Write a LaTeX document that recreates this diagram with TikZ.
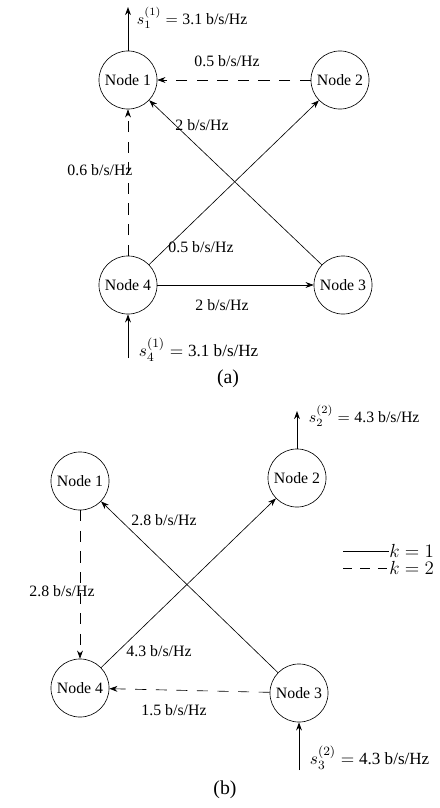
\documentclass[tikz,border=0pt]{standalone}
\usepackage{fontspec}
\setmainfont{Liberation Serif}
\usetikzlibrary{arrows.meta}

\begin{document}
\begin{tikzpicture}[x=0.632pt,y=-0.632pt,
  font=\fontsize{10}{12}\selectfont,
  nd/.style={draw,circle,minimum size=36.7pt,inner sep=0pt},
  lb/.style={inner sep=1pt},
  lbb/.style={inner sep=1pt,font=\fontsize{10.8}{13}\selectfont},
  captxt/.style={font=\fontsize{12.5}{14}\selectfont},
  kt/.style={anchor=west,inner sep=0pt,font=\fontsize{12}{14}\selectfont},
  a/.style={-{Stealth[length=1.8mm,width=1.3mm]},thin},
  ad/.style={a,dash pattern=on 7pt off 6pt},
  io/.style={-{Stealth[length=1.8mm,width=1.3mm]},semithick}]
\useasboundingbox (0,0) rectangle (440,808);

% (a)
\node[nd] (n1a) at (128,80)  {Node 1};
\node[nd] (n2a) at (340,80)  {Node 2};
\node[nd] (n3a) at (343,285) {Node 3};
\node[nd] (n4a) at (128,285) {Node 4};
\draw[ad] (n2a) -- (n1a);
\draw[ad] (n4a) -- (n1a);
\draw[a] (n3a) -- (n1a);
\draw[a] (n4a) -- (n2a);
\draw[a] (n4a) -- (n3a);
\coordinate (outa) at (128,7);
\coordinate (ina)  at (128,358);
\draw[io] (n1a.north) -- (outa);
\draw[io] (ina) -- (n4a.south);
\node[lb,anchor=west] (sa1) at (135,18) {$s_1^{(1)} = \mbox{3.1 b/s/Hz}$};
\node[lbb,anchor=west] (sa4) at (137,350) {$s_4^{(1)} = \mbox{3.1 b/s/Hz}$};
\node[lb] (l21a) at (227,61)  {0.5 b/s/Hz};
\node[lb] (l31a) at (202,125) {2 b/s/Hz};
\node[lb] (l41a) at (100,170) {0.6 b/s/Hz};
\node[lb] (l42a) at (201,247) {0.5 b/s/Hz};
\node[lb] (l43a) at (222,305) {2 b/s/Hz};
\node[captxt] (capa) at (228,379) {(a)};

% (b)
\node[nd] (n1b) at (80,481)  {Node 1};
\node[nd] (n2b) at (297,478) {Node 2};
\node[nd] (n3b) at (299,693) {Node 3};
\node[nd] (n4b) at (80,688)  {Node 4};
\draw[ad] (n1b) -- (n4b);
\draw[ad] (n3b) -- (n4b);
\draw[a] (n3b) -- (n1b);
\draw[a] (n4b) -- (n2b);
\coordinate (outb) at (297,411);
\coordinate (inb)  at (299,770);
\draw[io] (n2b.north) -- (outb);
\draw[io] (inb) -- (n3b.south);
\node[lb,anchor=west] (sb2) at (307,416) {$s_2^{(2)} = \mbox{4.3 b/s/Hz}$};
\node[lbb,anchor=west] (sb3) at (308,758) {$s_3^{(2)} = \mbox{4.3 b/s/Hz}$};
\node[lb] (l14b) at (62,591)  {2.8 b/s/Hz};
\node[lb] (l31b) at (164,520) {2.8 b/s/Hz};
\node[lb] (l42b) at (159,651) {4.3 b/s/Hz};
\node[lb] (l34b) at (174,710) {1.5 b/s/Hz};
\node[captxt] (capb) at (225,790) {(b)};

% legend
\coordinate (k1s) at (343,551);
\coordinate (k2s) at (343,568);
\node[kt] (k1) at (389,551) {$k=1$};
\node[kt] (k2) at (389,568) {$k=2$};
\draw[thin] (k1s) -- (k1.west);
\draw[thin,dash pattern=on 6pt off 5pt] (k2s) -- (k2.west);
\end{tikzpicture}
\end{document}
